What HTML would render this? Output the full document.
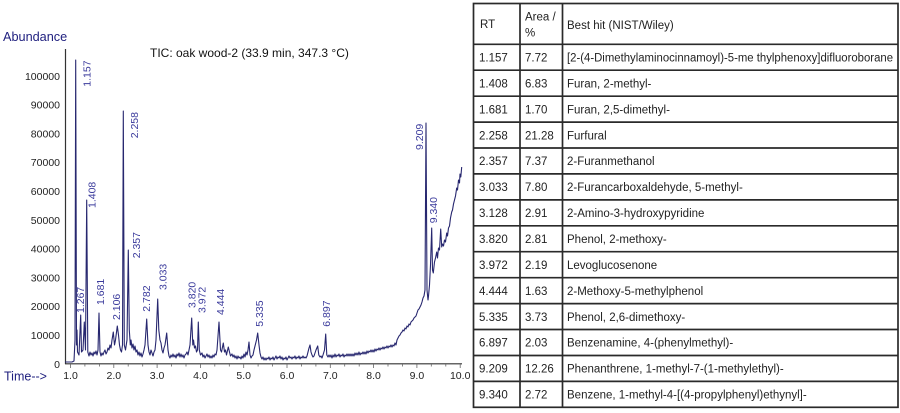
<!DOCTYPE html>
<html><head><meta charset="utf-8"><style>
html,body{margin:0;padding:0;background:#fff;}
svg{display:block;}
text{font-family:"Liberation Sans",Arial,sans-serif;}
</style></head><body>
<svg width="900" height="413" viewBox="0 0 900 413" xmlns="http://www.w3.org/2000/svg">
<rect width="900" height="413" fill="#fff"/>
<!-- axis titles -->
<text x="3" y="41" font-size="12.7" fill="#1e1e7e">Abundance</text>
<text x="4" y="380.5" font-size="12.5" fill="#1e1e7e">Time--&gt;</text>
<text x="150" y="57" font-size="12" fill="#111">TIC: oak wood-2 (33.9 min, 347.3 °C)</text>
<!-- axes -->
<line x1="65.5" y1="49" x2="65.5" y2="364" stroke="#333" stroke-width="1.2"/>
<line x1="65" y1="363.8" x2="462" y2="363.8" stroke="#333" stroke-width="1.2"/>
<g stroke="#666" stroke-width="0.8">
<line x1="70.5" y1="364" x2="70.5" y2="368"/><line x1="84.9" y1="364" x2="84.9" y2="366.5"/><line x1="99.4" y1="364" x2="99.4" y2="366.5"/>
<line x1="113.8" y1="364" x2="113.8" y2="368"/><line x1="128.2" y1="364" x2="128.2" y2="366.5"/><line x1="142.7" y1="364" x2="142.7" y2="366.5"/>
<line x1="157.1" y1="364" x2="157.1" y2="368"/><line x1="171.5" y1="364" x2="171.5" y2="366.5"/><line x1="186" y1="364" x2="186" y2="366.5"/>
<line x1="200.4" y1="364" x2="200.4" y2="368"/><line x1="214.8" y1="364" x2="214.8" y2="366.5"/><line x1="229.3" y1="364" x2="229.3" y2="366.5"/>
<line x1="243.7" y1="364" x2="243.7" y2="368"/><line x1="258.1" y1="364" x2="258.1" y2="366.5"/><line x1="272.6" y1="364" x2="272.6" y2="366.5"/>
<line x1="287" y1="364" x2="287" y2="368"/><line x1="301.4" y1="364" x2="301.4" y2="366.5"/><line x1="315.9" y1="364" x2="315.9" y2="366.5"/>
<line x1="330.3" y1="364" x2="330.3" y2="368"/><line x1="344.7" y1="364" x2="344.7" y2="366.5"/><line x1="359.2" y1="364" x2="359.2" y2="366.5"/>
<line x1="373.6" y1="364" x2="373.6" y2="368"/><line x1="388" y1="364" x2="388" y2="366.5"/><line x1="402.5" y1="364" x2="402.5" y2="366.5"/>
<line x1="416.9" y1="364" x2="416.9" y2="368"/><line x1="431.3" y1="364" x2="431.3" y2="366.5"/><line x1="445.8" y1="364" x2="445.8" y2="366.5"/>
<line x1="460.2" y1="364" x2="460.2" y2="368"/>
</g>
<!-- y labels -->
<g font-size="10.5" fill="#222" text-anchor="end">
<text x="60" y="367.8">0</text>
<text x="60" y="339">10000</text>
<text x="60" y="310.2">20000</text>
<text x="60" y="281.4">30000</text>
<text x="60" y="252.6">40000</text>
<text x="60" y="223.8">50000</text>
<text x="60" y="195">60000</text>
<text x="60" y="166.2">70000</text>
<text x="60" y="137.4">80000</text>
<text x="60" y="108.6">90000</text>
<text x="60" y="79.8">100000</text>
</g>
<!-- x labels -->
<g font-size="10.5" fill="#222" text-anchor="middle">
<text x="70.5" y="379">1.0</text>
<text x="113.8" y="379">2.0</text>
<text x="157.1" y="379">3.0</text>
<text x="200.4" y="379">4.0</text>
<text x="243.7" y="379">5.0</text>
<text x="287" y="379">6.0</text>
<text x="330.3" y="379">7.0</text>
<text x="373.6" y="379">8.0</text>
<text x="416.9" y="379">9.0</text>
<text x="460.2" y="379">10.0</text>
</g>
<!-- series -->
<polyline fill="none" stroke="#27276f" stroke-width="1.1" stroke-linejoin="round" points="
65,362 72,362 74,361 75,340 75.7,60 76.5,345 77,330 77.5,352 79,355 80.7,315 81.5,352 83,350 84.3,322 85.5,350 86.7,200 87.8,352 89,356 90,352 91,355 92,353 93,356 94,352 95,354 96,351 97,355 98,350 99,313 100,352 101,356 102,353 103,355 104,352 105,350 106,354 107,352 108,348 109,350 110,345 111,348 112,340 113.3,332 114.5,345 115.5,340 117.3,326 118.5,335 119.5,345 120.5,350 121.5,352 122.5,345 123.3,111 124.3,345 125.5,350 127,340 128.3,250 129.3,330 130.3,345 131,340 132,348 133,344 134,350 135,346 136,352 137,350 138,355 139,352 140,356 141,353 142,357 143,354 144,350 145,345 146.7,319 148,345 149,352 150,355 151,350 152,353 153,356 154,352 155,350 156,340 157.7,299 158.8,330 160,340 161,343 162,350 163,353 164,348 165,345 166.7,333 168,350 169,356 170,358 171,355 172,357 173,354 174,357 175,355 176,358 177,354 178,356 179,353 180,357 181,354 182,357 183,355 184,358 185,355 186,354 187,352 188,355 189,350 190,345 191.7,318 192.8,345 193.5,340 194.5,348 195.5,346 196.5,352 197.5,350 198.3,322 199.3,350 200.5,355 202,353 203,357 204,355 205,358 206,356 207,354 208,357 209,355 210,358 211,356 212,358 213,355 214,357 215,354 216,355 217,350 219,322 220.5,350 221.5,352 223.3,343 224.5,352 225.5,350 226.5,355 228.3,347 229.5,352 230.5,356 232,354 233,357 234,355 235,358 236,356 237,359 238,356 239,358 240,357 241,359 242,356 243,358 244,354 245,357 246,352 247,355 248,350 249,342 250,355 251,358 252,356 253,355 254,350 255,346 256.5,340 257.7,333 259,345 260,353 261,357 262,359 263,357 264,360 265,358 266,360 267,358 268,359 269,357 270,360 271,358 272,359 273,357 274,360 275,358 276,356 277,359 278,357 279,358 280,356 281,359 282,357 283,360 284,358 285,359 286,357 287,360 288,358 289,356 290,358 291,357 292,359 293,357 294,358 295,356 296,359 297,357 298,358 299,356 300,359 301,357 302,358 303,356 304,358 305,357 306,358 307,356 308,352 309,348 310,345 311,352 312,355 313,357 314,356 315,353 316,350 317.7,346 318.8,355 320,357 321,356 322,358 323,355 324.5,350 325.7,334 326.8,355 328,357 329,355 330,357 331,355 332,358 333,355 334,357 335,354 336,357 337,355 338,356 339,354 340,357 341,355 342,356 343,354 344,357 345,355 346,356 347,354 348,356 349,354 350,356 351,354 352,356 353,354 354,356 355,353 356,355 357,353 358,355 359,352 360,355 361,353 362,354 363,352 364,354 365,352 366,354 367,351 368,353 369,351 370,352 371,350 372,352 373,350 374,352 375,349 376,351 377,349 378,350 379,348 380,350 381,348 382,349 383,347 384,349 385,347 386,348 387,346 388,348 389,346 390,347 391,345 392,347 393,345 394,346 395,343 396,345 397,340 398,338 399,336 400,335 401,333 402,332 403,330 404,331 405,328 406,329 407,326 408,327 409,324 410,325 411,322 412,321 413,320 414,318 415,317 416,316 417,313 418,310 419,309 420,307 421,305 422,302 423,298 424,296 425,290 426,123 427,290 428,300 428.5,296 429.5,285 430.5,265 431.7,228 432.5,270 433.3,273 434.5,262 435.5,258 436.7,252 437.5,258 438.5,248 439.5,250 440.7,229 441.7,247 442.5,244 443.5,246 444.5,240 445.5,242 446.7,233 447.5,236 448.5,228 449.5,226 450.5,218 451.7,212 452.5,210 453.5,204 454.5,200 455.5,196 456.7,188 457.5,190 458.5,180 459.5,183 460,174 460.8,177 461.7,167"/>
<!-- peak labels -->
<g font-size="10.5" fill="#3b3b9c">
<text transform="translate(90.5,86.7) rotate(-90)">1.157</text>
<text transform="translate(83.8,313) rotate(-90)">1.267</text>
<text transform="translate(95.5,208) rotate(-90)">1.408</text>
<text transform="translate(103.8,305) rotate(-90)">1.681</text>
<text transform="translate(119.8,320) rotate(-90)">2.106</text>
<text transform="translate(137.8,138.3) rotate(-90)">2.258</text>
<text transform="translate(139.8,258.3) rotate(-90)">2.357</text>
<text transform="translate(149.8,311.7) rotate(-90)">2.782</text>
<text transform="translate(166.5,290) rotate(-90)">3.033</text>
<text transform="translate(195.5,308) rotate(-90)">3.820</text>
<text transform="translate(205.5,313) rotate(-90)">3.972</text>
<text transform="translate(223.8,315) rotate(-90)">4.444</text>
<text transform="translate(263,326.7) rotate(-90)">5.335</text>
<text transform="translate(329.8,326.7) rotate(-90)">6.897</text>
<text transform="translate(423,150) rotate(-90)">9.209</text>
<text transform="translate(437,223.3) rotate(-90)">9.340</text>
</g>
<!-- table -->
<g stroke="#2a2a2a" stroke-width="1.7" fill="none">
<rect x="473.5" y="3.5" width="424.5" height="403.8"/>
<line x1="520" y1="3.5" x2="520" y2="407.3"/>
<line x1="562.5" y1="3.5" x2="562.5" y2="407.3"/>
<line x1="473.5" y1="44.3" x2="898" y2="44.3"/>
<line x1="473.5" y1="70.2" x2="898" y2="70.2"/>
<line x1="473.5" y1="96.2" x2="898" y2="96.2"/>
<line x1="473.5" y1="122.1" x2="898" y2="122.1"/>
<line x1="473.5" y1="148" x2="898" y2="148"/>
<line x1="473.5" y1="173.9" x2="898" y2="173.9"/>
<line x1="473.5" y1="199.9" x2="898" y2="199.9"/>
<line x1="473.5" y1="225.8" x2="898" y2="225.8"/>
<line x1="473.5" y1="251.7" x2="898" y2="251.7"/>
<line x1="473.5" y1="277.7" x2="898" y2="277.7"/>
<line x1="473.5" y1="303.6" x2="898" y2="303.6"/>
<line x1="473.5" y1="329.5" x2="898" y2="329.5"/>
<line x1="473.5" y1="355.5" x2="898" y2="355.5"/>
<line x1="473.5" y1="381.4" x2="898" y2="381.4"/>
</g>
<g font-size="11.5" fill="#222">
<text x="480" y="28">RT</text>
<text x="525" y="20.5">Area /</text>
<text x="525" y="36.5">%</text>
<text x="567" y="29">Best hit (NIST/Wiley)</text>

<text x="479" y="61.5">1.157</text><text x="525" y="61.5">7.72</text><text x="567" y="61.5" textLength="326" lengthAdjust="spacingAndGlyphs">[2-(4-Dimethylaminocinnamoyl)-5-me thylphenoxy]difluoroborane</text>
<text x="479" y="87.4">1.408</text><text x="525" y="87.4">6.83</text><text x="567" y="87.4">Furan, 2-methyl-</text>
<text x="479" y="113.3">1.681</text><text x="525" y="113.3">1.70</text><text x="567" y="113.3">Furan, 2,5-dimethyl-</text>
<text x="479" y="139.3">2.258</text><text x="525" y="139.3">21.28</text><text x="567" y="139.3">Furfural</text>
<text x="479" y="165.2">2.357</text><text x="525" y="165.2">7.37</text><text x="567" y="165.2">2-Furanmethanol</text>
<text x="479" y="191.1">3.033</text><text x="525" y="191.1">7.80</text><text x="567" y="191.1">2-Furancarboxaldehyde, 5-methyl-</text>
<text x="479" y="217.1">3.128</text><text x="525" y="217.1">2.91</text><text x="567" y="217.1">2-Amino-3-hydroxypyridine</text>
<text x="479" y="243">3.820</text><text x="525" y="243">2.81</text><text x="567" y="243">Phenol, 2-methoxy-</text>
<text x="479" y="268.9">3.972</text><text x="525" y="268.9">2.19</text><text x="567" y="268.9">Levoglucosenone</text>
<text x="479" y="294.8">4.444</text><text x="525" y="294.8">1.63</text><text x="567" y="294.8">2-Methoxy-5-methylphenol</text>
<text x="479" y="320.8">5.335</text><text x="525" y="320.8">3.73</text><text x="567" y="320.8">Phenol, 2,6-dimethoxy-</text>
<text x="479" y="346.7">6.897</text><text x="525" y="346.7">2.03</text><text x="567" y="346.7">Benzenamine, 4-(phenylmethyl)-</text>
<text x="479" y="372.6">9.209</text><text x="525" y="372.6">12.26</text><text x="567" y="372.6">Phenanthrene, 1-methyl-7-(1-methylethyl)-</text>
<text x="479" y="398.6">9.340</text><text x="525" y="398.6">2.72</text><text x="567" y="398.6">Benzene, 1-methyl-4-[(4-propylphenyl)ethynyl]-</text>
</g>
</svg>
</body></html>
